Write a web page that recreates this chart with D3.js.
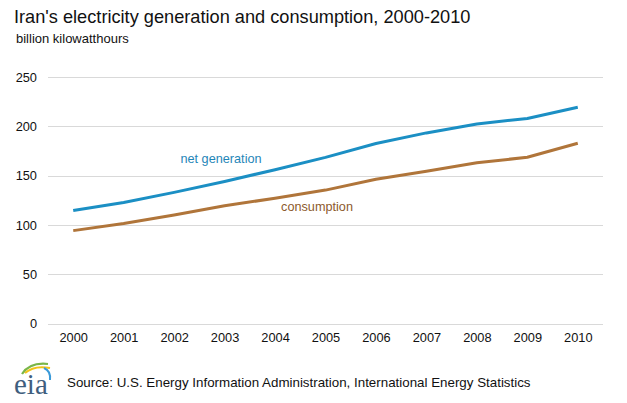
<!DOCTYPE html>
<html><head><meta charset="utf-8">
<script src="https://cdn.jsdelivr.net/npm/d3@7"></script>
<style>
html,body{margin:0;padding:0;background:#fff;}
svg{display:block;font-family:"Liberation Sans",Arial,sans-serif;}
</style></head>
<body><svg id="c" width="627" height="403"></svg>
<script>
const years = ["2000","2001","2002","2003","2004","2005","2006","2007","2008","2009","2010"];
const netGeneration = [114.5, 122.8, 133, 144, 156, 168.5, 182.5, 193.3, 202.3, 208, 219.3];
const consumption = [94.2, 101.5, 110, 119.5, 127, 135.3, 146.3, 154.5, 163, 168.6, 182.8];
const yTicks = [0, 50, 100, 150, 200, 250];

const svg = d3.select("#c");
const x = d3.scalePoint().domain(years).range([48, 603]).padding(0.5);
const y = d3.scaleLinear().domain([0, 250]).range([323.5, 77]);

// gridlines
svg.append("g").selectAll("line").data(yTicks).join("line")
  .attr("x1", 48).attr("x2", 603)
  .attr("y1", d => Math.round(y(d)) + 0.5).attr("y2", d => Math.round(y(d)) + 0.5)
  .attr("stroke", "#d9d9d9").attr("stroke-width", 1);

// y axis labels
const yAxis = d3.axisLeft(y).tickValues(yTicks).tickSize(0).tickPadding(0);
const gy = svg.append("g").attr("transform", "translate(37,0)").call(yAxis);
gy.select(".domain").remove();
gy.selectAll("text").attr("font-size", 12.8).attr("fill", "#111").attr("font-family", "Liberation Sans, Arial, sans-serif");

// x axis labels
const xAxis = d3.axisBottom(x).tickSize(0).tickPadding(0);
const gx = svg.append("g").attr("transform", "translate(0,333)").call(xAxis);
gx.select(".domain").remove();
gx.selectAll("text").attr("font-size", 12.8).attr("fill", "#111").attr("font-family", "Liberation Sans, Arial, sans-serif");

const line = d3.line().x((d, i) => x(years[i])).y(d => y(d));
svg.append("path").datum(consumption).attr("d", line)
  .attr("fill", "none").attr("stroke", "#b0753a").attr("stroke-width", 3).attr("stroke-linejoin", "round");
svg.append("path").datum(netGeneration).attr("d", line)
  .attr("fill", "none").attr("stroke", "#1b8fc4").attr("stroke-width", 3).attr("stroke-linejoin", "round");

svg.append("text").attr("x", 221).attr("y", 163).attr("text-anchor", "middle")
  .attr("font-size", 12.7).attr("fill", "#1f86b8").text("net generation");
svg.append("text").attr("x", 317).attr("y", 211).attr("text-anchor", "middle")
  .attr("font-size", 12.7).attr("fill", "#8c5a2c").text("consumption");

// title
svg.append("text").attr("x", 14).attr("y", 23).attr("font-size", 18.2).attr("fill", "#111")
  .text("Iran's electricity generation and consumption, 2000-2010");
svg.append("text").attr("x", 16).attr("y", 43).attr("font-size", 13).attr("fill", "#111")
  .text("billion kilowatthours");

// source
svg.append("text").attr("x", 67).attr("y", 387).attr("font-size", 13.35).attr("fill", "#111")
  .text("Source: U.S. Energy Information Administration, International  Energy Statistics");

// eia logo
const logo = svg.append("g");
logo.append("path").attr("d", "M22,374 Q30,362 48,364").attr("fill", "none").attr("stroke", "#7ab648").attr("stroke-width", 2.2);
logo.append("path").attr("d", "M25,373 Q34,365 50,368").attr("fill", "none").attr("stroke", "#f2c318").attr("stroke-width", 2);
logo.append("path").attr("d", "M44,368 Q51,371 50,380").attr("fill", "none").attr("stroke", "#3a9ad9").attr("stroke-width", 2);
logo.append("text").attr("x", 14).attr("y", 394).attr("font-family", "Liberation Serif, Times New Roman, serif")
  .attr("font-size", 29).attr("fill", "#3f5e7e").text("eia");
</script></body></html>
